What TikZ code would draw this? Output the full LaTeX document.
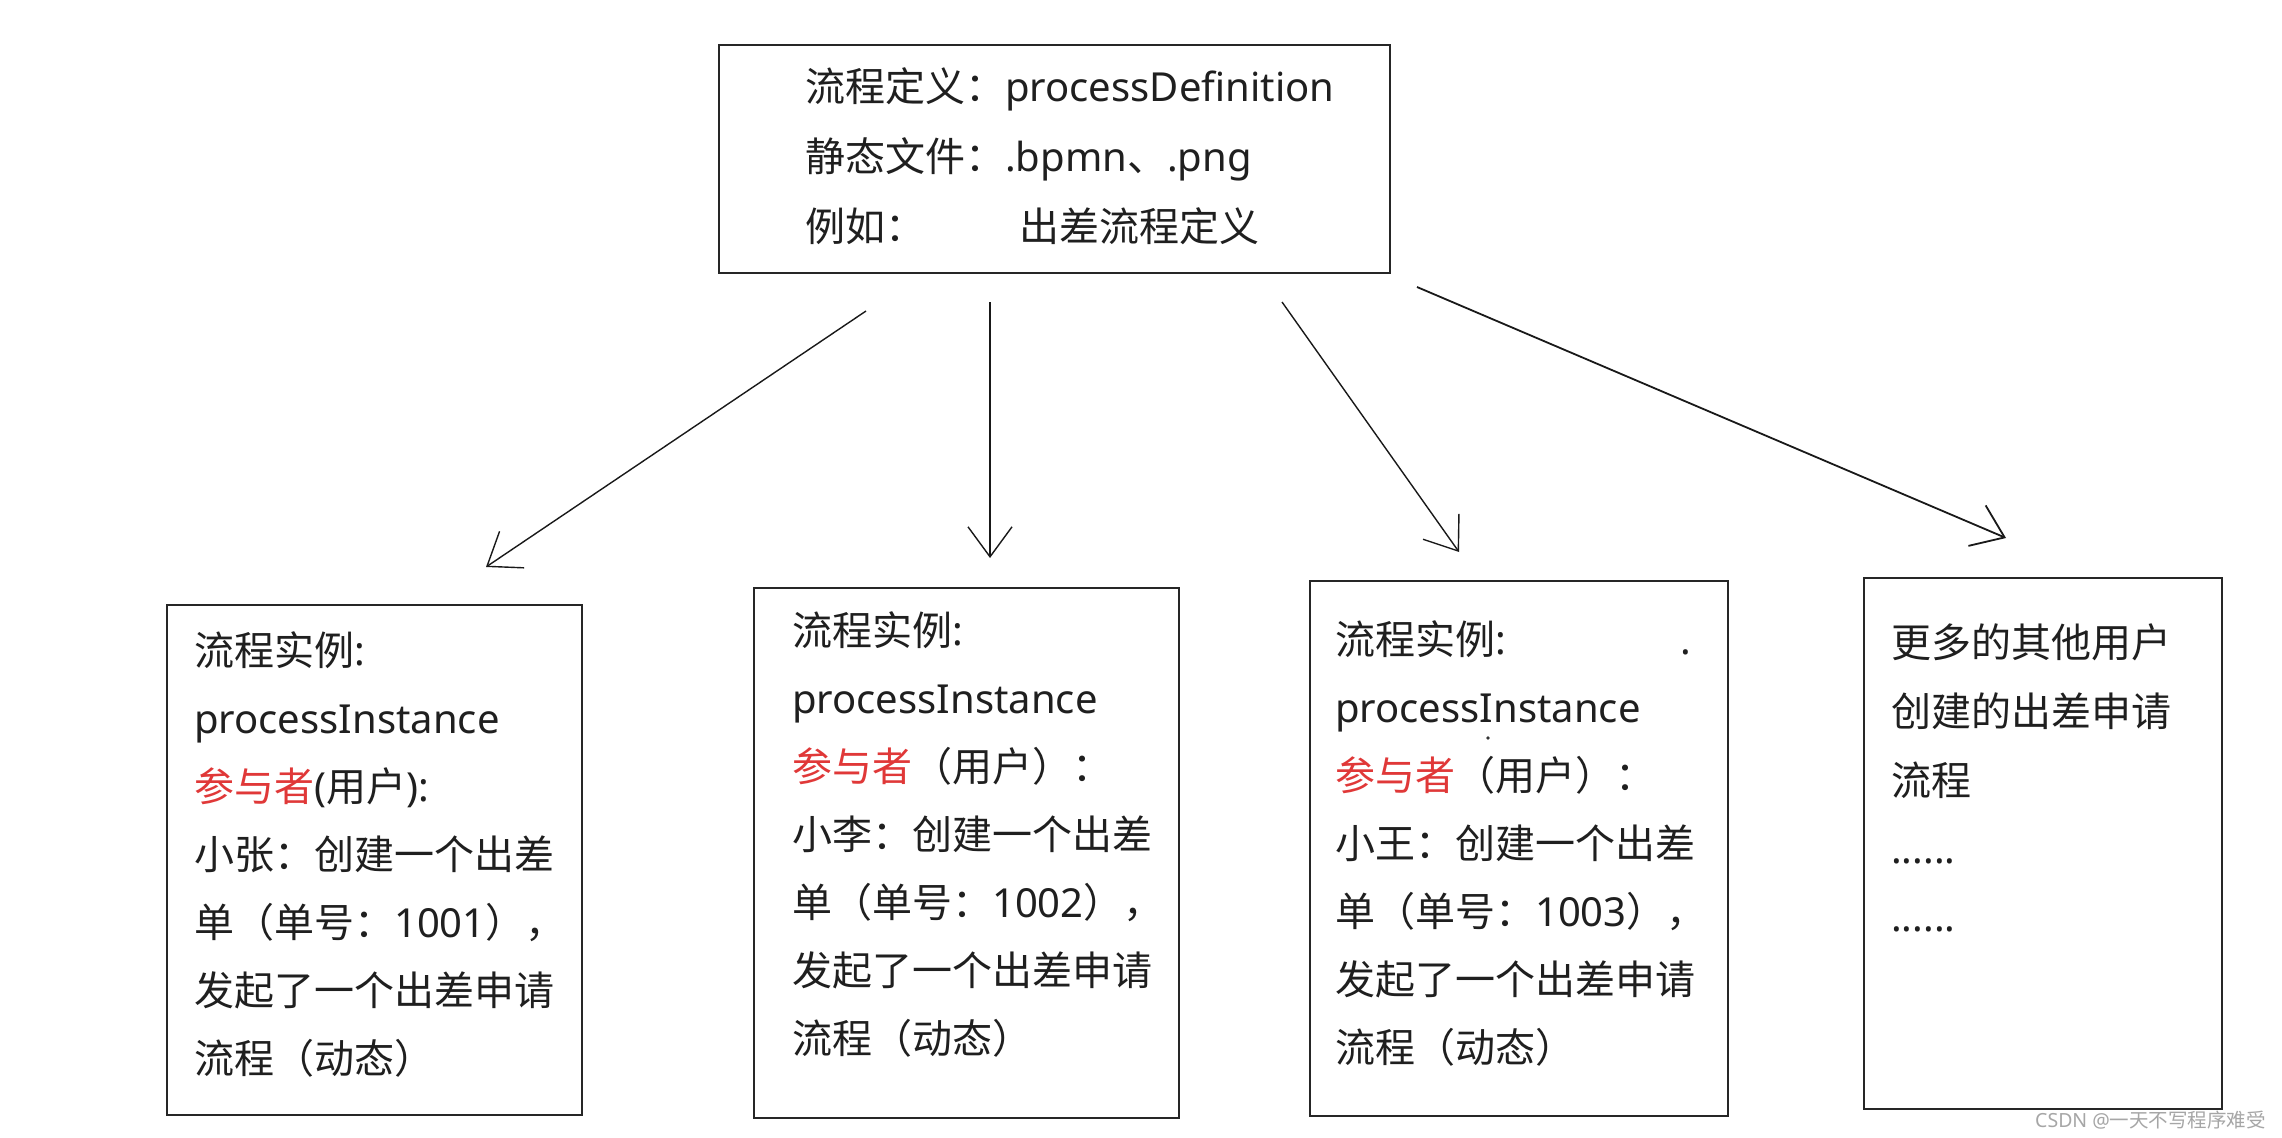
\documentclass[tikz,border=0pt]{standalone}
\usepackage{fontspec}
\setmainfont{Noto Sans}
\newfontfamily\cjk{Noto Sans CJK SC}
\newcommand\zhx[1]{{\cjk #1}}
\usetikzlibrary{arrows.meta}
\definecolor{redtxt}{RGB}{224,56,56}
\tikzset{
  box/.style={draw=black!85, line width=1.8pt, inner sep=0pt, rectangle},
  txt/.style={anchor=base west, inner sep=0pt, font=\fontsize{40}{48}\selectfont, text=black!88},
  arr/.style={line width=1.4pt, draw=black!90, -{Straight Barb[length=30pt,width=44pt]}},
  wm/.style={anchor=base west, inner sep=0pt, font=\fontsize{19.5}{22}\selectfont, text=black!35}
}
\begin{document}
\begin{tikzpicture}[x=1pt,y=-1pt]
\useasboundingbox (0,0) rectangle (2282,1137);
\fill[white] (0,0) rectangle (2282,1137);

% boxes
\node[box, minimum width=671pt, minimum height=228pt] (top) at (1054.5,159) {};
\node[box, minimum width=415pt, minimum height=510pt] (b1) at (374.5,860) {};
\node[box, minimum width=425pt, minimum height=530pt] (b2) at (966.5,853) {};
\node[box, minimum width=418pt, minimum height=535pt] (b3) at (1519,848.5) {};
\node[box, minimum width=358pt, minimum height=531pt] (b4) at (2043,843.5) {};

% top text
\node[txt] (t1) at (805,102) {\zhx{流程定义：}processDefinition};
\node[txt] (t2) at (805,171) {\zhx{静态文件：}.bpmn\zhx{、}.png};
\node[txt] (t3a) at (805,241) {\zhx{例如：}};
\node[txt] (t3b) at (1019,241) {\zhx{出差流程定义}};

% box 1
\node[txt] (p1l1) at (194,665) {\zhx{流程实例}:};
\node[txt] (p1l2) at (194,733) {processInstance};
\node[txt] (p1l3) at (194,801) {\textcolor{redtxt}{\zhx{参与者}}(\zhx{用户}):};
\node[txt] (p1l4) at (194,869) {\zhx{小张：创建一个出差}};
\node[txt] (p1l5) at (194,937) {\zhx{单（单号：}1001\zhx{），}};
\node[txt] (p1l6) at (194,1005) {\zhx{发起了一个出差申请}};
\node[txt] (p1l7) at (194,1073) {\zhx{流程（动态）}};

% box 2
\node[txt] (p2l1) at (792,645) {\zhx{流程实例}:};
\node[txt] (p2l2) at (792,713) {processInstance};
\node[txt] (p2l3) at (792,781) {\textcolor{redtxt}{\zhx{参与者}}\zhx{（用户）：}};
\node[txt] (p2l4) at (792,849) {\zhx{小李：创建一个出差}};
\node[txt] (p2l5) at (792,917) {\zhx{单（单号：}1002\zhx{），}};
\node[txt] (p2l6) at (792,985) {\zhx{发起了一个出差申请}};
\node[txt] (p2l7) at (792,1053) {\zhx{流程（动态）}};

% box 3
\node[txt] (p3l1) at (1335,654) {\zhx{流程实例}:};
\node[txt] (p3dot) at (1680,654) {.};
\node[txt] (p3l2) at (1335,722) {processInstance};
\fill[black!80] (1488,738) circle (1.8pt);
\node[txt] (p3l3) at (1335,790) {\textcolor{redtxt}{\zhx{参与者}}\zhx{（用户）：}};
\node[txt] (p3l4) at (1335,858) {\zhx{小王：创建一个出差}};
\node[txt] (p3l5) at (1335,926) {\zhx{单（单号：}1003\zhx{），}};
\node[txt] (p3l6) at (1335,994) {\zhx{发起了一个出差申请}};
\node[txt] (p3l7) at (1335,1062) {\zhx{流程（动态）}};

% box 4
\node[txt] (p4l1) at (1891,657) {\zhx{更多的其他用户}};
\node[txt] (p4l2) at (1891,726) {\zhx{创建的出差申请}};
\node[txt] (p4l3) at (1891,795) {\zhx{流程}};
\node[txt] (p4l4) at (1891,863) {......};
\node[txt] (p4l5) at (1891,931) {......};

% arrows
\coordinate (a1s) at (866,311);
\coordinate (a1e) at (486,567);
\coordinate (a2s) at (990,302);
\coordinate (a2e) at (990,558);
\coordinate (a3s) at (1282,302);
\coordinate (a3e) at (1459,552);
\coordinate (a4s) at (1417,287);
\coordinate (a4e) at (2006,538);
\draw[arr] (a1s) -- (a1e);
\draw[arr] (a2s) -- (a2e);
\draw[arr] (a3s) -- (a3e);
\draw[arr, line width=1.8pt] (a4s) -- (a4e);

% watermark
\node[wm] (wmk) at (2035,1127) {CSDN @\zhx{一天不写程序难受}};
\end{tikzpicture}
\end{document}
